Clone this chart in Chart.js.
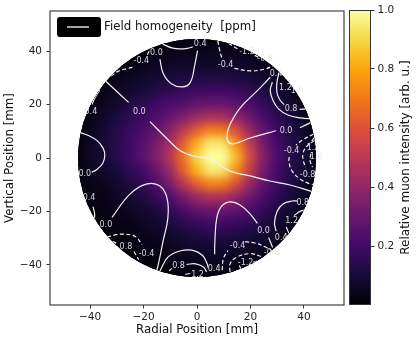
<!DOCTYPE html>
<html>
<head>
<meta charset="utf-8">
<script src="https://cdn.jsdelivr.net/npm/chart.js@4.4.1/dist/chart.umd.min.js"></script>
<style>
  html, body { margin: 0; padding: 0; background: #fff; }
  #wrap { position: relative; width: 416px; height: 344px; }
  #wrap canvas { position: absolute; top: 0; }
  #map { left: 0; }
  #bar { left: 340px; }
</style>
</head>
<body>
<div id="wrap">
  <canvas id="map" width="416" height="344"></canvas>
  <canvas id="bar" width="76" height="344"></canvas>
</div>
<script>
"use strict";

// muon intensity map, 5 mm grid, rows from top (y = 45) to bottom (y = -45)
const gridX = [-45, -40, -35, -30, -25, -20, -15, -10, -5, 0, 5, 10, 15, 20, 25, 30, 35, 40, 45];
const gridY = [45, 40, 35, 30, 25, 20, 15, 10, 5, 0, -5, -10, -15, -20, -25, -30, -35, -40, -45];
const gridStep = 5;
const intensity = [
  [0, 0, 0, 0.01, 0.01, 0.01, 0.02, 0.02, 0.02, 0.02, 0.03, 0.03, 0.02, 0.02, 0.02, 0.01, 0.01, 0, 0],
  [0, 0.01, 0.01, 0.01, 0.02, 0.02, 0.03, 0.04, 0.04, 0.04, 0.05, 0.05, 0.04, 0.04, 0.03, 0.02, 0.02, 0.01, 0.01],
  [0.01, 0.01, 0.02, 0.02, 0.03, 0.04, 0.05, 0.06, 0.07, 0.07, 0.07, 0.07, 0.07, 0.06, 0.05, 0.04, 0.03, 0.02, 0.01],
  [0.01, 0.02, 0.02, 0.04, 0.05, 0.07, 0.09, 0.10, 0.11, 0.12, 0.12, 0.12, 0.11, 0.10, 0.08, 0.06, 0.04, 0.03, 0.02],
  [0.02, 0.02, 0.04, 0.06, 0.08, 0.10, 0.13, 0.15, 0.17, 0.18, 0.19, 0.19, 0.18, 0.15, 0.12, 0.09, 0.06, 0.04, 0.03],
  [0.02, 0.03, 0.05, 0.08, 0.12, 0.15, 0.19, 0.22, 0.24, 0.28, 0.29, 0.29, 0.26, 0.22, 0.17, 0.12, 0.08, 0.06, 0.04],
  [0.03, 0.04, 0.07, 0.11, 0.15, 0.19, 0.24, 0.28, 0.35, 0.42, 0.46, 0.45, 0.39, 0.30, 0.22, 0.16, 0.11, 0.07, 0.04],
  [0.03, 0.05, 0.08, 0.13, 0.18, 0.22, 0.28, 0.37, 0.50, 0.63, 0.72, 0.71, 0.58, 0.41, 0.28, 0.19, 0.13, 0.08, 0.05],
  [0.04, 0.06, 0.09, 0.14, 0.19, 0.25, 0.33, 0.44, 0.63, 0.82, 0.95, 0.94, 0.75, 0.52, 0.33, 0.21, 0.14, 0.09, 0.06],
  [0.04, 0.06, 0.09, 0.14, 0.19, 0.26, 0.35, 0.48, 0.68, 0.90, 1.00, 1.00, 0.84, 0.58, 0.36, 0.23, 0.15, 0.10, 0.06],
  [0.03, 0.05, 0.07, 0.10, 0.15, 0.20, 0.29, 0.41, 0.63, 0.82, 0.95, 0.94, 0.75, 0.52, 0.33, 0.21, 0.14, 0.09, 0.06],
  [0.02, 0.04, 0.05, 0.08, 0.12, 0.16, 0.23, 0.33, 0.48, 0.63, 0.72, 0.71, 0.58, 0.41, 0.28, 0.19, 0.13, 0.08, 0.05],
  [0.02, 0.03, 0.04, 0.06, 0.08, 0.12, 0.17, 0.23, 0.32, 0.41, 0.46, 0.45, 0.39, 0.30, 0.22, 0.16, 0.11, 0.07, 0.04],
  [0.01, 0.02, 0.03, 0.04, 0.06, 0.08, 0.11, 0.16, 0.21, 0.27, 0.29, 0.29, 0.26, 0.22, 0.17, 0.12, 0.08, 0.06, 0.04],
  [0.01, 0.01, 0.02, 0.03, 0.04, 0.06, 0.08, 0.11, 0.14, 0.17, 0.19, 0.19, 0.18, 0.15, 0.12, 0.09, 0.06, 0.04, 0.03],
  [0, 0.01, 0.01, 0.02, 0.03, 0.04, 0.05, 0.07, 0.09, 0.11, 0.12, 0.12, 0.11, 0.10, 0.08, 0.06, 0.04, 0.03, 0.02],
  [0, 0, 0.01, 0.01, 0.02, 0.03, 0.03, 0.04, 0.06, 0.07, 0.07, 0.07, 0.07, 0.06, 0.05, 0.04, 0.03, 0.02, 0.01],
  [0, 0, 0, 0.01, 0.01, 0.02, 0.02, 0.03, 0.04, 0.04, 0.05, 0.05, 0.04, 0.04, 0.03, 0.02, 0.02, 0.01, 0.01],
  [0, 0, 0, 0, 0.01, 0.01, 0.01, 0.02, 0.02, 0.02, 0.03, 0.03, 0.02, 0.02, 0.02, 0.01, 0.01, 0, 0],
];
const apertureRadius = 44.5;

const axisTicks = [-40, -20, 0, 20, 40];
const barTicks = [0.2, 0.4, 0.6, 0.8, 1.0];

// field homogeneity contours [mm], null = gap for the inline label
const zeroMain = [[-34.4, 29.0], [-25.6, 20.8], null, [-17.6, 13.6], [-11.2, 7.2], [-6.4, 2.8], [-1.5, 0.8], [4.9, -0.4], [7.5, -1.9], [12.4, -4.9], [19.9, -6.7], [27.3, -8.6], [34.8, -10.1], [43.2, -12.6]];
const zeroTop = [[-13.9, 37.0], [-12.6, 31.5], [-9.6, 27.8], [-5.4, 26.6], [-2.5, 28.3], [-0.9, 34.5], [0.2, 40.2]];
const posTop = [[-12.8, 42.6], [-9.4, 41.2], [-6.4, 40.8], [-3.6, 41.0], [-1.6, 41.6]];
const negTopLeft = [[-32.2, 30.7], [-29.6, 32.4], [-26.4, 33.4], [-23.6, 34.0], null, [-18.6, 38.6], [-17.4, 40.9]];
const posLeft = [[-36.4, 25.4], [-38.2, 22.5], [-39.3, 20.0]];
const zeroLeft = [[-43.6, 9.5], [-40.4, 8.3], [-37.4, 6.5], [-35.2, 3.8], [-34.5, 1.2], [-35.2, -1.9], [-37.6, -4.4], [-39.4, -5.3]];
const posLowLeft = [[-38.9, -18.2], [-38.3, -21.0], [-38.5, -23.5]];
const zeroLowLeft = [[-31.8, -22.2], [-25.1, -13.5], [-18.7, -9.7], [-13.9, -10.5], [-11.2, -15.0], [-10.9, -22.5], [-12.7, -31.1], [-14.6, -40.4], [-15.4, -43.0]];
const negLowLeft = [[-33.6, -29.6], [-30.2, -28.7], [-27.7, -28.5], [-24.6, -28.8], [-22.5, -29.8], [-20.6, -32.4]];
const negLowLeft2 = [[-31.6, -31.2], [-29.4, -32.3], null, [-23.6, -35.0], [-21.8, -38.0]];
const posBottom = [[-13.9, -42.3], [-10.9, -37.1], [-6.4, -34.8], [-1.9, -34.5], [1.9, -36.3], [3.7, -39.3], [4.2, -41.0]];
const posBottom2 = [[-10.4, -42.2], [-9.4, -41.3], null, [-3.9, -39.8], [-0.5, -39.6], [2.4, -40.8], [3.6, -42.6]];
const posBottom3 = [[-4.4, -43.6], [-2.6, -43.2]];
const zeroRight = [[43.4, 13.7], [38.5, 11.3], null, [29.5, 10.2], [19.9, 7.5], [13.5, 5.3], [11.4, 6.5], [11.4, 9.5], [12.4, 12.7], [16.1, 18.7], [22.5, 25.1], [27.4, 30.2]];
const posRight = [[28.2, 28.4], [27.4, 25.3], [28.4, 21.6], [30.5, 18.4], [34.0, 16.1], [38.6, 15.0], [43.6, 14.6]];
const posRight2 = [[30.6, 31.8], [29.9, 28.2], [29.9, 24.5], [31.0, 21.8], [32.6, 20.0], null, [38.4, 18.2], [43.5, 18.5]];
const posRight3 = [[39.8, 23.6], [41.6, 22.0], [43.2, 21.5]];
const negRight = [[43.6, 9.0], [39.5, 6.8], [37.0, 4.8], null, [34.5, 0.4], [34.4, -1.5], [35.6, -4.9], [38.6, -7.9], [42.3, -9.7], [44.0, -10.0]];
const negRight2 = [[44.0, 6.6], [41.0, 4.3], [39.6, 1.6], [39.8, -1.0], [40.6, -3.6]];
const negRight3 = [[43.9, 7.6], [42.3, 5.6]];
const negRight4 = [[42.6, 1.6], [42.3, -1.0], [43.2, -3.4]];
const zeroLowRight = [[6.6, -36.0], [6.7, -31.0], [7.4, -22.4], [9.2, -18.0], [12.4, -16.4], [16.1, -17.6], [19.9, -21.0], [22.6, -24.5], null, [26.8, -29.8], [28.3, -33.5]];
const posLowRight = [[29.6, -27.4], [29.0, -24.3], [30.0, -19.9], [32.2, -17.2], [35.6, -16.1], [37.5, -16.1], null, [41.8, -16.4], [43.8, -16.2]];
const posLowRight2 = [[34.4, -28.2], [33.4, -25.8], null, [36.4, -21.5], [39.0, -19.8], [43.2, -19.2]];
const negLowRight = [[9.4, -42.0], [9.9, -37.6], [11.6, -34.6], null, [18.0, -31.3], [21.7, -31.8], [25.8, -33.4], [28.9, -35.2]];
const negLowRight2 = [[12.4, -42.6], [12.3, -39.8], [14.5, -37.3], [19.9, -35.8], [24.7, -37.1]];
const negLowRight3 = [[16.4, -41.4], [15.8, -40.2], null, [21.0, -39.0], [22.8, -38.6]];
const negTopRight = [[7.8, 43.8], [8.5, 40.2], [9.3, 37.4], null, [14.0, 33.5], [19.9, 32.6], [25.5, 33.3], [28.6, 34.6]];
const negTopRight2 = [[11.8, 42.9], [15.2, 40.8], null, [21.6, 38.4], [23.0, 37.7]];

const solidContours = [zeroMain, zeroTop, posTop, posLeft, zeroLeft, posLowLeft, zeroLowLeft, posBottom, posBottom2, posBottom3, zeroRight, posRight, posRight2, posRight3, zeroLowRight, posLowRight, posLowRight2];
const dashedContours = [negTopLeft, negLowLeft, negLowLeft2, negRight, negRight2, negRight3, negRight4, negLowRight, negLowRight2, negLowRight3, negTopRight, negTopRight2];

const labelText = ["0.0", "0.0", "0.4", "-0.4", "0.4", "0.0", "0.4", "0.0", "-0.4", "0.8", "0.4", "0.8", "1.2", "0.0", "0.4", "0.8", "1.2", "1.6", "-0.4", "-1.2", "-0.8", "-0.4", "1.2", "1.6", "-0.8", "0.0", "0.4", "0.8", "1.2", "-0.4", "-0.8", "-1.2"];
const labelX = [-21.6, -15.2, 1.2, -20.8, -39.7, -42.0, -40.4, -34.1, -18.9, -26.6, 6.4, -6.9, 0.2, 33.3, 29.6, 35.2, 33.1, 37.5, 10.7, 18.7, 25.5, 35.4, 43.4, 44.6, 41.4, 24.9, 31.5, 39.6, 35.4, 15.2, 27.9, 18.2];
const labelY = [17.4, 39.3, 42.6, 36.3, 17.4, -6.0, -14.8, -24.9, -36.0, -33.3, -41.4, -40.4, -43.6, 10.3, 31.5, 18.2, 26.3, 25.1, 35.0, 39.6, 36.9, 2.6, 3.9, 0.4, -6.2, -27.2, -29.8, -16.7, -23.7, -33.0, -35.6, -39.2];

// inferno colour map
const inferno = ["#000004", "#160b39", "#420a68", "#6a176e", "#932667", "#bc3754", "#dd513a", "#f37819", "#fca50a", "#f6d746", "#fcffa4"];

Chart.defaults.font.family = '"DejaVu Sans", sans-serif';
Chart.defaults.font.size = 10.5;
Chart.defaults.color = "#222";

const titleFont = { size: 11.8 };

const infernoRgb = inferno.map((h) => [1, 3, 5].map((i) => parseInt(h.substr(i, 2), 16)));

function colorFor(v) {
  const t = Math.min(Math.max(v, 0), 1) * (infernoRgb.length - 1);
  const i = Math.min(Math.floor(t), infernoRgb.length - 2);
  const f = t - i;
  const a = infernoRgb[i];
  const b = infernoRgb[i + 1];
  const c = a.map((ch, k) => Math.round(ch + (b[k] - ch) * f));
  return `rgb(${c[0]}, ${c[1]}, ${c[2]})`;
}

function fmtTick(v) {
  return v < 0 ? "\u2212" + Math.abs(v) : String(v);
}

function toPoints(list) {
  const out = [];
  list.forEach((p) => {
    if (p === null) {
      out.push({ x: out[out.length - 1].x, y: null });
    } else {
      out.push({ x: p[0], y: p[1] });
    }
  });
  return out;
}

const cells = [];
gridY.forEach((y, r) => {
  gridX.forEach((x, c) => {
    cells.push({ x, y, v: intensity[r][c] });
  });
});

// drawn first (highest order) so the contours sit on top
const heatSet = {
  data: cells,
  order: 10,
  pointStyle: "rect",
  borderWidth: 0,
  backgroundColor: (ctx) => colorFor(ctx.raw ? ctx.raw.v : 0),
  radius: (ctx) => {
    const xs = ctx.chart.scales.x;
    return Math.abs(xs.getPixelForValue(gridStep) - xs.getPixelForValue(0)) * 0.8;
  },
};

function contourSet(pts, dashed) {
  return {
    data: toPoints(pts),
    order: 0,
    showLine: true,
    spanGaps: false,
    borderColor: "#f2f2f2",
    borderWidth: 1.2,
    borderDash: dashed ? [4, 2.5] : [],
    pointRadius: 0,
    tension: 0.4,
    fill: false,
  };
}

const contourSets = solidContours.map((c) => contourSet(c, false))
  .concat(dashedContours.map((c) => contourSet(c, true)));

function circlePath(chart) {
  const { x, y } = chart.scales;
  const cx = x.getPixelForValue(0);
  const cy = y.getPixelForValue(0);
  const r = Math.abs(x.getPixelForValue(apertureRadius) - cx);
  chart.ctx.beginPath();
  chart.ctx.arc(cx, cy, r, 0, Math.PI * 2);
}

const aperturePlugin = {
  id: "aperture",
  beforeDatasetsDraw(chart) {
    const ctx = chart.ctx;
    ctx.save();
    circlePath(chart);
    ctx.clip();
  },
  afterDatasetDraw(chart, args) {
    if (args.index !== 0) {
      return;
    }
    // smooth the 5 mm cells into a continuous map
    const c = chart.canvas;
    const off = document.createElement("canvas");
    off.width = c.width;
    off.height = c.height;
    off.getContext("2d").drawImage(c, 0, 0);
    const ctx = chart.ctx;
    ctx.save();
    ctx.setTransform(1, 0, 0, 1, 0, 0);
    ctx.fillStyle = colorFor(0);
    ctx.fillRect(0, 0, c.width, c.height);
    ctx.filter = "blur(5px)";
    ctx.drawImage(off, 0, 0);
    ctx.restore();
  },
  afterDatasetsDraw(chart) {
    const ctx = chart.ctx;
    ctx.restore();
    const { x, y } = chart.scales;
    ctx.save();
    ctx.font = '8px "DejaVu Sans"';
    ctx.fillStyle = "rgba(235, 235, 235, 0.9)";
    ctx.textAlign = "center";
    ctx.textBaseline = "middle";
    labelText.forEach((t, i) => {
      ctx.fillText(t, x.getPixelForValue(labelX[i]), y.getPixelForValue(labelY[i]));
    });
    ctx.restore();
  },
  afterDraw(chart) {
    const ctx = chart.ctx;
    const a = chart.chartArea;
    ctx.save();
    ctx.strokeStyle = "#444";
    ctx.lineWidth = 1.2;
    ctx.strokeRect(a.left, a.top, a.right - a.left, a.bottom - a.top);
    // legend
    const lx = a.left + 7;
    const ly = a.top + 6;
    ctx.fillStyle = "#000";
    ctx.beginPath();
    ctx.roundRect(lx, ly, 44, 20, 3);
    ctx.fill();
    ctx.strokeStyle = "#fff";
    ctx.lineWidth = 1.3;
    ctx.beginPath();
    ctx.moveTo(lx + 10, ly + 10);
    ctx.lineTo(lx + 32, ly + 10);
    ctx.stroke();
    ctx.fillStyle = "#111";
    ctx.font = '11.8px "DejaVu Sans"';
    ctx.textBaseline = "middle";
    ctx.fillText("Field homogeneity  [ppm]", lx + 47, ly + 10);
    ctx.restore();
  },
};

new Chart(document.getElementById("map"), {
  type: "scatter",
  data: { datasets: [heatSet].concat(contourSets) },
  options: {
    responsive: false,
    animation: false,
    events: [],
    layout: { padding: { top: 11, right: 72, bottom: 0, left: 0 } },
    plugins: { legend: { display: false }, tooltip: { enabled: false } },
    scales: {
      x: {
        type: "linear",
        min: -55,
        max: 55,
        afterBuildTicks: (s) => { s.ticks = axisTicks.map((v) => ({ value: v })); },
        afterFit: (s) => { s.height = 39; },
        grid: { drawOnChartArea: false, drawTicks: true, tickLength: 3.5, color: "#333" },
        border: { display: false },
        ticks: { padding: 2, callback: fmtTick },
        title: { display: true, text: "Radial Position [mm]", color: "#111", font: titleFont, padding: { top: 0, bottom: 7 } },
      },
      y: {
        type: "linear",
        min: -55,
        max: 55,
        afterBuildTicks: (s) => { s.ticks = axisTicks.map((v) => ({ value: v })); },
        afterFit: (s) => { s.width = 50; },
        grid: { drawOnChartArea: false, drawTicks: true, tickLength: 3.5, color: "#333" },
        border: { display: false },
        ticks: { padding: 4.5, callback: fmtTick },
        title: { display: true, text: "Vertical Position [mm]", color: "#111", font: titleFont, padding: { top: 3, bottom: 0 } },
      },
    },
  },
  plugins: [aperturePlugin],
});

const barPlugin = {
  id: "barFrame",
  afterDraw(chart) {
    const ctx = chart.ctx;
    const a = chart.chartArea;
    ctx.save();
    ctx.strokeStyle = "#333";
    ctx.lineWidth = 1;
    ctx.strokeRect(a.left + 0.5, a.top + 0.5, a.right - a.left - 1, a.bottom - a.top - 1);
    ctx.translate(a.right + 35, (a.top + a.bottom) / 2);
    ctx.rotate(-Math.PI / 2);
    ctx.fillStyle = "#111";
    ctx.font = '12px "DejaVu Sans"';
    ctx.textAlign = "center";
    ctx.textBaseline = "middle";
    ctx.fillText("Relative muon intensity [arb. u.]", 0, 0);
    ctx.restore();
  },
};

new Chart(document.getElementById("bar"), {
  type: "bar",
  data: {
    labels: [""],
    datasets: [{
      data: [1],
      borderWidth: 0,
      barPercentage: 1,
      categoryPercentage: 1,
      backgroundColor: (ctx) => {
        const chart = ctx.chart;
        if (!chart.chartArea) {
          return colorFor(0.5);
        }
        const ys = chart.scales.y;
        const g = chart.ctx.createLinearGradient(0, ys.getPixelForValue(0), 0, ys.getPixelForValue(1));
        inferno.forEach((c, i) => g.addColorStop(i / (inferno.length - 1), c));
        return g;
      },
    }],
  },
  options: {
    responsive: false,
    animation: false,
    events: [],
    layout: { padding: { top: 10, right: 0, bottom: 39, left: 9 } },
    plugins: { legend: { display: false }, tooltip: { enabled: false } },
    scales: {
      x: { display: false },
      y: {
        position: "right",
        min: 0,
        max: 1,
        afterBuildTicks: (s) => { s.ticks = barTicks.map((v) => ({ value: v })); },
        afterFit: (s) => { s.width = 45; },
        grid: { drawOnChartArea: false, drawTicks: true, tickLength: 3.5, color: "#333" },
        border: { display: false },
        ticks: { padding: 3, callback: (v) => Number(v).toFixed(1) },
      },
    },
  },
  plugins: [barPlugin],
});
</script>
</body>
</html>
